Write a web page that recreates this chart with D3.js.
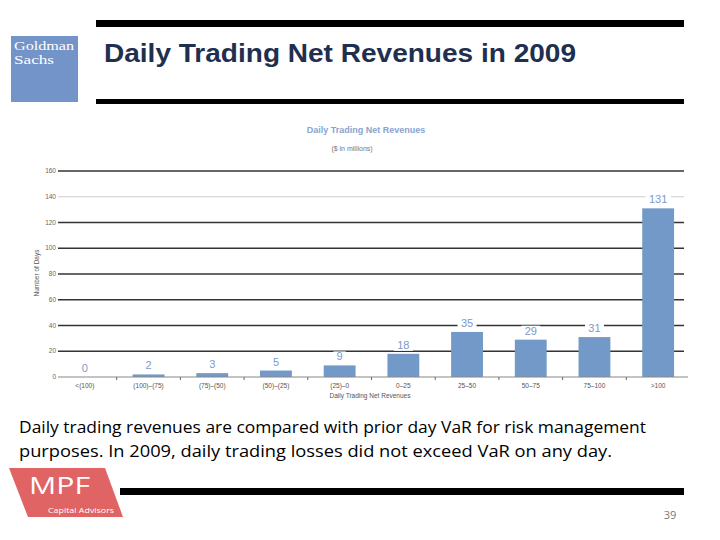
<!DOCTYPE html>
<html><head><meta charset="utf-8">
<script src="https://cdn.jsdelivr.net/npm/d3@7"></script>
<style>body{margin:0;background:#fff}svg{display:block}</style>
</head><body><svg id="c" width="720" height="540"></svg>
<script>
const categories = ["<(100)","(100)–(75)","(75)–(50)","(50)–(25)","(25)–0","0–25","25–50","50–75","75–100",">100"];
const days = [0,2,3,5,9,18,35,29,31,131];
const yTicks = [0,20,40,60,80,100,120,140,160];

const svg = d3.select("#c");
// Header bars
svg.append("rect").attr("x",96).attr("y",20).attr("width",588).attr("height",7).attr("fill","#000");
svg.append("rect").attr("x",96).attr("y",99).attr("width",588).attr("height",5).attr("fill","#000");
// Goldman logo
svg.append("rect").attr("x",11).attr("y",36).attr("width",67).attr("height",66).attr("fill","#7394c8");
svg.append("text").attr("x",14).attr("y",50).attr("font-family","Liberation Serif").attr("font-size",12)
  .attr("fill","#fff").attr("textLength",60).attr("lengthAdjust","spacingAndGlyphs").text("Goldman");
svg.append("text").attr("x",14).attr("y",64).attr("font-family","Liberation Serif").attr("font-size",12)
  .attr("fill","#fff").attr("textLength",40).attr("lengthAdjust","spacingAndGlyphs").text("Sachs");
// Title
svg.append("text").attr("x",104).attr("y",62).attr("font-family","Liberation Sans, Arial").attr("font-weight","bold")
  .attr("font-size",26).attr("fill","#1f2f4f").attr("textLength",472).attr("lengthAdjust","spacingAndGlyphs")
  .text("Daily Trading Net Revenues in 2009");

// Chart
const x = d3.scaleBand().domain(categories).range([53,690]).paddingInner(0.5).paddingOuter(0.25);
const y = d3.scaleLinear().domain([0,160]).range([377,171]);

svg.append("text").attr("x",366).attr("y",133).attr("text-anchor","middle").attr("font-family","Liberation Sans, Arial")
  .attr("font-weight","bold").attr("font-size",9).attr("fill","#88a4cf").text("Daily Trading Net Revenues");
svg.append("text").attr("x",352).attr("y",151).attr("text-anchor","middle").attr("font-family","Liberation Sans, Arial")
  .attr("font-size",7).attr("fill","#777").text("($ in millions)");

// gridlines
svg.append("g").selectAll("line").data(yTicks.filter(d=>d>0)).join("line")
  .attr("x1",58).attr("x2",684).attr("y1",d=>y(d)).attr("y2",d=>y(d))
  .attr("stroke",d=>d===140?"#ccc":"#333").attr("stroke-width",d=>d===140?1:1.3);

// y tick labels
svg.append("g").selectAll("text").data(yTicks).join("text")
  .attr("x",56).attr("y",d=>y(d)+2).attr("text-anchor","end").attr("font-family","Liberation Sans, Arial")
  .attr("font-size",6.5).attr("fill","#666").text(d=>d);
svg.append("text").attr("transform","translate(39,273) rotate(-90)").attr("text-anchor","middle")
  .attr("font-family","Liberation Sans, Arial").attr("font-size",6.5).attr("fill","#555").text("Number of Days");

// bars
svg.append("g").selectAll("rect").data(days).join("rect")
  .attr("x",(d,i)=>x(categories[i])).attr("width",x.bandwidth())
  .attr("y",d=>y(d)).attr("height",d=>y(0)-y(d)).attr("fill","#7399c8");

// x axis
const xa = svg.append("g").attr("transform","translate(0,377)");
xa.append("line").attr("x1",58).attr("x2",688).attr("stroke","#888").attr("stroke-width",1);
xa.selectAll("line.t").data(categories.slice(1)).join("line").attr("class","t")
  .attr("x1",d=>x(d)-x.step()*0.25).attr("x2",d=>x(d)-x.step()*0.25).attr("y1",0).attr("y2",3).attr("stroke","#666");
xa.selectAll("text").data(categories).join("text")
  .attr("x",d=>x(d)+x.bandwidth()/2).attr("y",11).attr("text-anchor","middle")
  .attr("font-family","Liberation Sans, Arial").attr("font-size",6.5).attr("fill","#555").text(d=>d);
svg.append("text").attr("x",370).attr("y",398).attr("text-anchor","middle").attr("font-family","Liberation Sans, Arial")
  .attr("font-size",6.5).attr("fill","#555").text("Daily Trading Net Revenues");

// value labels
const lg = svg.append("g");
days.forEach((d,i)=>{
  const cx = x(categories[i])+x.bandwidth()/2, ty = y(d)-5;
  const w = String(d).length*6.5+6;
  lg.append("rect").attr("x",cx-w/2).attr("y",ty-9).attr("width",w).attr("height",11).attr("fill","#fff");
  lg.append("text").attr("x",cx).attr("y",ty).attr("text-anchor","middle").attr("font-family","Liberation Sans, Arial")
    .attr("font-size",11).attr("fill","#7a9bc9").text(d);
});

// body text
svg.append("text").attr("x",19).attr("y",433).attr("font-family","Open Sans").attr("font-size",17).attr("fill","#000")
  .attr("textLength",627).attr("lengthAdjust","spacingAndGlyphs")
  .text("Daily trading revenues are compared with prior day VaR for risk management");
svg.append("text").attr("x",19).attr("y",457).attr("font-family","Open Sans").attr("font-size",17).attr("fill","#000")
  .attr("textLength",593).attr("lengthAdjust","spacingAndGlyphs")
  .text("purposes. In 2009, daily trading losses did not exceed VaR on any day.");

// MPF logo
svg.append("polygon").attr("points","9,468 105,468 123,517 28,517").attr("fill","#e06464");
svg.append("text").attr("x",29).attr("y",494).attr("font-family","Open Sans").attr("font-size",24).attr("fill","#fff")
  .attr("textLength",61).attr("lengthAdjust","spacingAndGlyphs").text("MPF");
svg.append("text").attr("x",48).attr("y",513).attr("font-family","Open Sans").attr("font-size",8).attr("fill","#fff")
  .attr("textLength",66).attr("lengthAdjust","spacingAndGlyphs").text("Capital Advisors");
svg.append("rect").attr("x",120).attr("y",488).attr("width",564).attr("height",7).attr("fill","#000");
svg.append("text").attr("x",670).attr("y",519).attr("text-anchor","middle").attr("font-family","Open Sans")
  .attr("font-size",11).attr("fill","#777").text("39");
</script></body></html>
